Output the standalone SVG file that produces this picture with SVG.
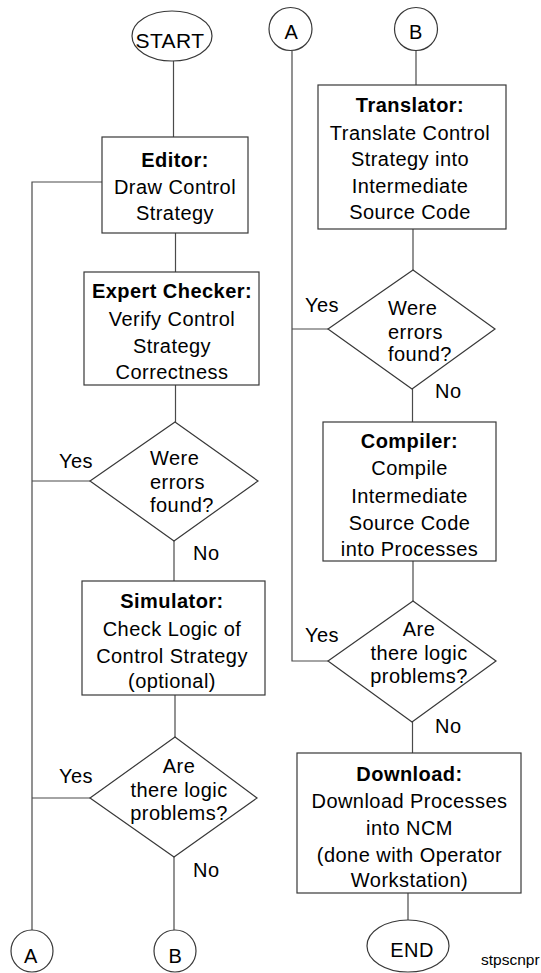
<svg xmlns="http://www.w3.org/2000/svg" width="541" height="973" viewBox="0 0 541 973">
  <style>
    .shape { fill: #fff; stroke: #383838; stroke-width: 1.2; }
    .wire { fill: none; stroke: #4a4a4a; stroke-width: 1.2; }
    text { font-family: "Liberation Sans", Arial, Helvetica, sans-serif; font-size: 20px; fill: #000; letter-spacing: 0.45px; }
    .c { text-anchor: middle; }
    .b { font-weight: bold; }
  </style>
  <rect width="541" height="973" fill="#fff"/>

  <!-- connectors -->
  <g id="connectors">
    <path class="wire" d="M173.5,61 V137"/>
    <path class="wire" d="M175.5,233 V272"/>
    <path class="wire" d="M175.5,385 V422"/>
    <path class="wire" d="M174,541 V581"/>
    <path class="wire" d="M175,695 V737"/>
    <path class="wire" d="M174,857 V930"/>
    <path class="wire" d="M102,182 H32 V930"/>
    <path class="wire" d="M90,481 H32"/>
    <path class="wire" d="M90,798 H32"/>
    <path class="wire" d="M292,51 V661 H328"/>
    <path class="wire" d="M328,329 H292"/>
    <path class="wire" d="M416,51 V85"/>
    <path class="wire" d="M413,229 V270"/>
    <path class="wire" d="M412.5,389 V422"/>
    <path class="wire" d="M413,561 V601"/>
    <path class="wire" d="M412.5,722 V753"/>
    <path class="wire" d="M408,893 V920"/>
  </g>

  <!-- left column -->
  <g id="start">
    <ellipse class="shape" cx="172" cy="36" rx="40" ry="25"/>
    <text class="c" x="170" y="48" style="font-size:21px">START</text>
  </g>
  <g id="editor">
    <rect class="shape" x="102" y="137" width="146" height="96"/>
    <text class="c b" x="175" y="167">Editor:</text>
    <text class="c" x="175" y="194">Draw Control</text>
    <text class="c" x="175" y="220">Strategy</text>
  </g>
  <g id="expert-checker">
    <rect class="shape" x="84" y="272" width="175" height="113"/>
    <text class="c b" x="172" y="298">Expert Checker:</text>
    <text class="c" x="172" y="326">Verify Control</text>
    <text class="c" x="172" y="352.5">Strategy</text>
    <text class="c" x="172" y="379">Correctness</text>
  </g>
  <g id="errors-check-1">
    <polygon class="shape" points="175,422 258,481 174,541 90,481"/>
    <text x="150" y="465">Were</text>
    <text x="150" y="488.5">errors</text>
    <text x="150" y="511.5">found?</text>
    <text x="59" y="468">Yes</text>
    <text x="193" y="560">No</text>
  </g>
  <g id="simulator">
    <rect class="shape" x="82" y="581" width="183" height="114"/>
    <text class="c b" x="172" y="608">Simulator:</text>
    <text class="c" x="172" y="636">Check Logic of</text>
    <text class="c" x="172" y="662.5">Control Strategy</text>
    <text class="c" x="172" y="688">(optional)</text>
  </g>
  <g id="logic-check-1">
    <polygon class="shape" points="175,737 257,798 174,857 90,798"/>
    <text class="c" x="179" y="773">Are</text>
    <text class="c" x="179" y="797">there logic</text>
    <text class="c" x="179" y="820">problems?</text>
    <text x="59" y="783">Yes</text>
    <text x="193" y="877">No</text>
  </g>
  <g id="connector-a-out">
    <circle class="shape" cx="32" cy="951" r="21"/>
    <text class="c" x="31" y="963">A</text>
  </g>
  <g id="connector-b-out">
    <circle class="shape" cx="175" cy="951" r="21"/>
    <text class="c" x="175.5" y="963">B</text>
  </g>

  <!-- right column -->
  <g id="connector-a-in">
    <circle class="shape" cx="290.5" cy="29" r="21.5"/>
    <text class="c" x="291.5" y="38.5">A</text>
  </g>
  <g id="connector-b-in">
    <circle class="shape" cx="416" cy="29" r="21.5"/>
    <text class="c" x="416" y="38.5">B</text>
  </g>
  <g id="translator">
    <rect class="shape" x="318" y="85" width="188" height="144"/>
    <text class="c b" x="410" y="112">Translator:</text>
    <text class="c" x="410" y="140">Translate Control</text>
    <text class="c" x="410" y="166">Strategy into</text>
    <text class="c" x="410" y="193">Intermediate</text>
    <text class="c" x="410" y="219">Source Code</text>
  </g>
  <g id="errors-check-2">
    <polygon class="shape" points="413,270 495,329 412,389 328,329"/>
    <text x="388" y="315">Were</text>
    <text x="388" y="338.5">errors</text>
    <text x="388" y="361">found?</text>
    <text x="305" y="312">Yes</text>
    <text x="435" y="398">No</text>
  </g>
  <g id="compiler">
    <rect class="shape" x="323" y="422" width="173" height="139"/>
    <text class="c b" x="409.5" y="448">Compiler:</text>
    <text class="c" x="409.5" y="475">Compile</text>
    <text class="c" x="409.5" y="502.5">Intermediate</text>
    <text class="c" x="409.5" y="529.5">Source Code</text>
    <text class="c" x="409.5" y="555.5">into Processes</text>
  </g>
  <g id="logic-check-2">
    <polygon class="shape" points="413,601 496,661 412,722 328,661"/>
    <text class="c" x="419" y="636">Are</text>
    <text class="c" x="419" y="660">there logic</text>
    <text class="c" x="419" y="683">problems?</text>
    <text x="305" y="642">Yes</text>
    <text x="435" y="733">No</text>
  </g>
  <g id="download">
    <rect class="shape" x="297" y="753" width="224" height="140"/>
    <text class="c b" x="409.5" y="781">Download:</text>
    <text class="c" x="409.5" y="808">Download Processes</text>
    <text class="c" x="409.5" y="835">into NCM</text>
    <text class="c" x="409.5" y="862">(done with Operator</text>
    <text class="c" x="409.5" y="887">Workstation)</text>
  </g>
  <g id="end">
    <ellipse class="shape" cx="408" cy="946" rx="41" ry="26"/>
    <text class="c" x="412" y="957">END</text>
  </g>
  <text x="481" y="965" style="font-size:15.5px;letter-spacing:0">stpscnpr</text>
</svg>
